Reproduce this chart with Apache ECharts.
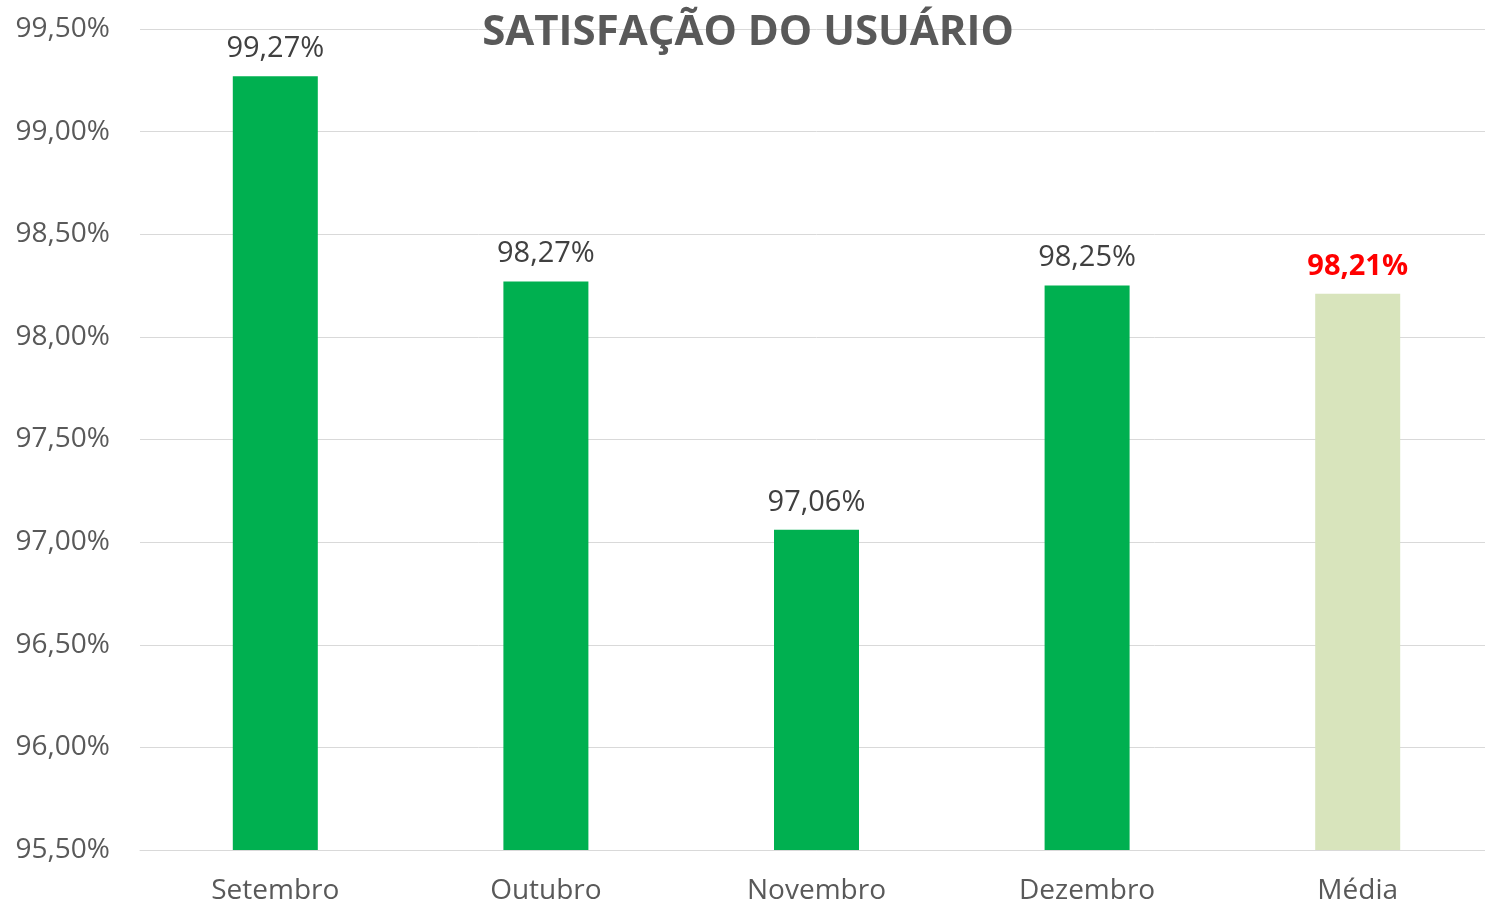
<!DOCTYPE html>
<html><head><meta charset="utf-8">
<script src="https://cdn.jsdelivr.net/npm/echarts@6/dist/echarts.min.js"></script>
<style>html,body{margin:0;padding:0;background:#fff;overflow:hidden}#c{width:1493px;height:906px}</style>
</head><body><div id="c"></div>
<script>
const categories = ['Setembro', 'Outubro', 'Novembro', 'Dezembro', 'Média'];
const values = [99.27, 98.27, 97.06, 98.25, 98.21];
const yTicks = { min: 95.5, max: 99.5, interval: 0.5 };
const fmt = v => v.toFixed(2).replace('.', ',') + '%';
const chart = echarts.init(document.getElementById('c'));
chart.setOption({
  animation: false,
  title: {
    text: 'SATISFAÇÃO DO USUÁRIO', left: 743, textAlign: 'center', top: 7,
    textStyle: { fontFamily: 'Open Sans', fontWeight: 'bold', fontSize: 42, color: '#595959' }
  },
  grid: { left: 140, right: 0, top: 29, bottom: 56 },
  xAxis: {
    type: 'category', data: categories,
    axisLine: { lineStyle: { color: '#d9d9d9' } }, axisTick: { show: false },
    axisLabel: { fontFamily: 'Open Sans', fontSize: 28, color: '#595959', margin: 27 }
  },
  yAxis: {
    type: 'value', min: yTicks.min, max: yTicks.max, interval: yTicks.interval,
    axisLabel: { formatter: fmt, fontFamily: 'Open Sans', fontSize: 28, color: '#595959', margin: 30 },
    splitLine: { lineStyle: { color: '#d9d9d9' } }, axisLine: { show: false }
  },
  series: [{
    type: 'bar', barWidth: 85,
    data: values.map((v, i) => i === values.length - 1 ? {
      value: v, itemStyle: { color: '#d8e4bc' },
      label: { color: '#ff0000', fontWeight: 'bold' }
    } : { value: v }),
    itemStyle: { color: '#00b050' },
    label: { show: true, position: 'top', distance: 13, formatter: p => fmt(p.value),
      fontFamily: 'Open Sans', fontSize: 29, color: '#404040' }
  }]
});
</script></body></html>
